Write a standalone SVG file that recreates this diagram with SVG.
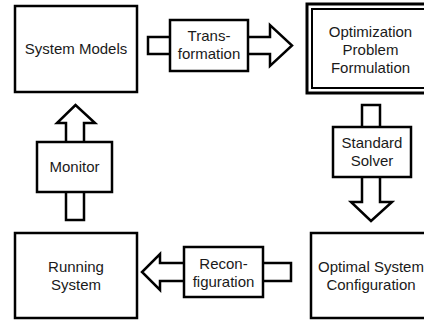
<svg xmlns="http://www.w3.org/2000/svg" width="424" height="320" viewBox="0 0 424 320">
<style>
.box{fill:#fff;stroke:#000;stroke-width:2.5}
.arr{fill:#fff;stroke:#000;stroke-width:2.5;stroke-linejoin:miter}
.lbl{fill:#fff;stroke:#000;stroke-width:2.5}
text{font-family:"Liberation Sans",Arial,sans-serif;font-size:15px;fill:#1a1a1a;text-anchor:middle}
</style>
<rect width="424" height="320" fill="#fff"/>
<g id="connectors">
<g id="transformation">
<polygon class="arr" points="148,37 270,37 270,25 292,45.5 270,66 270,54 148,54"/>
<rect class="lbl" x="170" y="20" width="78" height="51"/>
<text x="209" y="41">Trans-</text>
<text x="209" y="59">formation</text>
</g>
<g id="solver">
<polygon class="arr" points="362,105 380,105 380,202 392,202 371,221 351,202 362,202"/>
<rect class="lbl" x="333" y="127" width="78" height="50"/>
<text x="372" y="148">Standard</text>
<text x="372" y="166">Solver</text>
</g>
<g id="reconfiguration">
<polygon class="arr" points="291,263 291,281 160,281 160,290 142,272 160,254 160,263"/>
<rect class="lbl" x="184" y="247" width="79" height="50"/>
<text x="223.5" y="269">Recon-</text>
<text x="223.5" y="287">figuration</text>
</g>
<g id="monitor">
<polygon class="arr" points="66,220 84,220 84,123 95,123 75.5,105 57,123 66,123"/>
<rect class="lbl" x="37" y="142" width="75" height="50"/>
<text x="74.5" y="172">Monitor</text>
</g>
</g>
<g id="system-models">
<rect class="box" x="15" y="6" width="122" height="86"/>
<text x="76" y="54">System Models</text>
</g>
<g id="optimization">
<rect fill="#fff" stroke="#000" stroke-width="3" x="307" y="4" width="130" height="89"/>
<rect fill="none" stroke="#000" stroke-width="2" x="312" y="9" width="125" height="79"/>
<text x="370.5" y="37">Optimization</text>
<text x="370.5" y="55">Problem</text>
<text x="370.5" y="73">Formulation</text>
</g>
<g id="optimal-config">
<rect class="box" x="311" y="233" width="125" height="85"/>
<text x="371" y="272">Optimal System</text>
<text x="371" y="290">Configuration</text>
</g>
<g id="running-system">
<rect class="box" x="15" y="233" width="122" height="85"/>
<text x="76" y="272">Running</text>
<text x="76" y="290">System</text>
</g>
</svg>
